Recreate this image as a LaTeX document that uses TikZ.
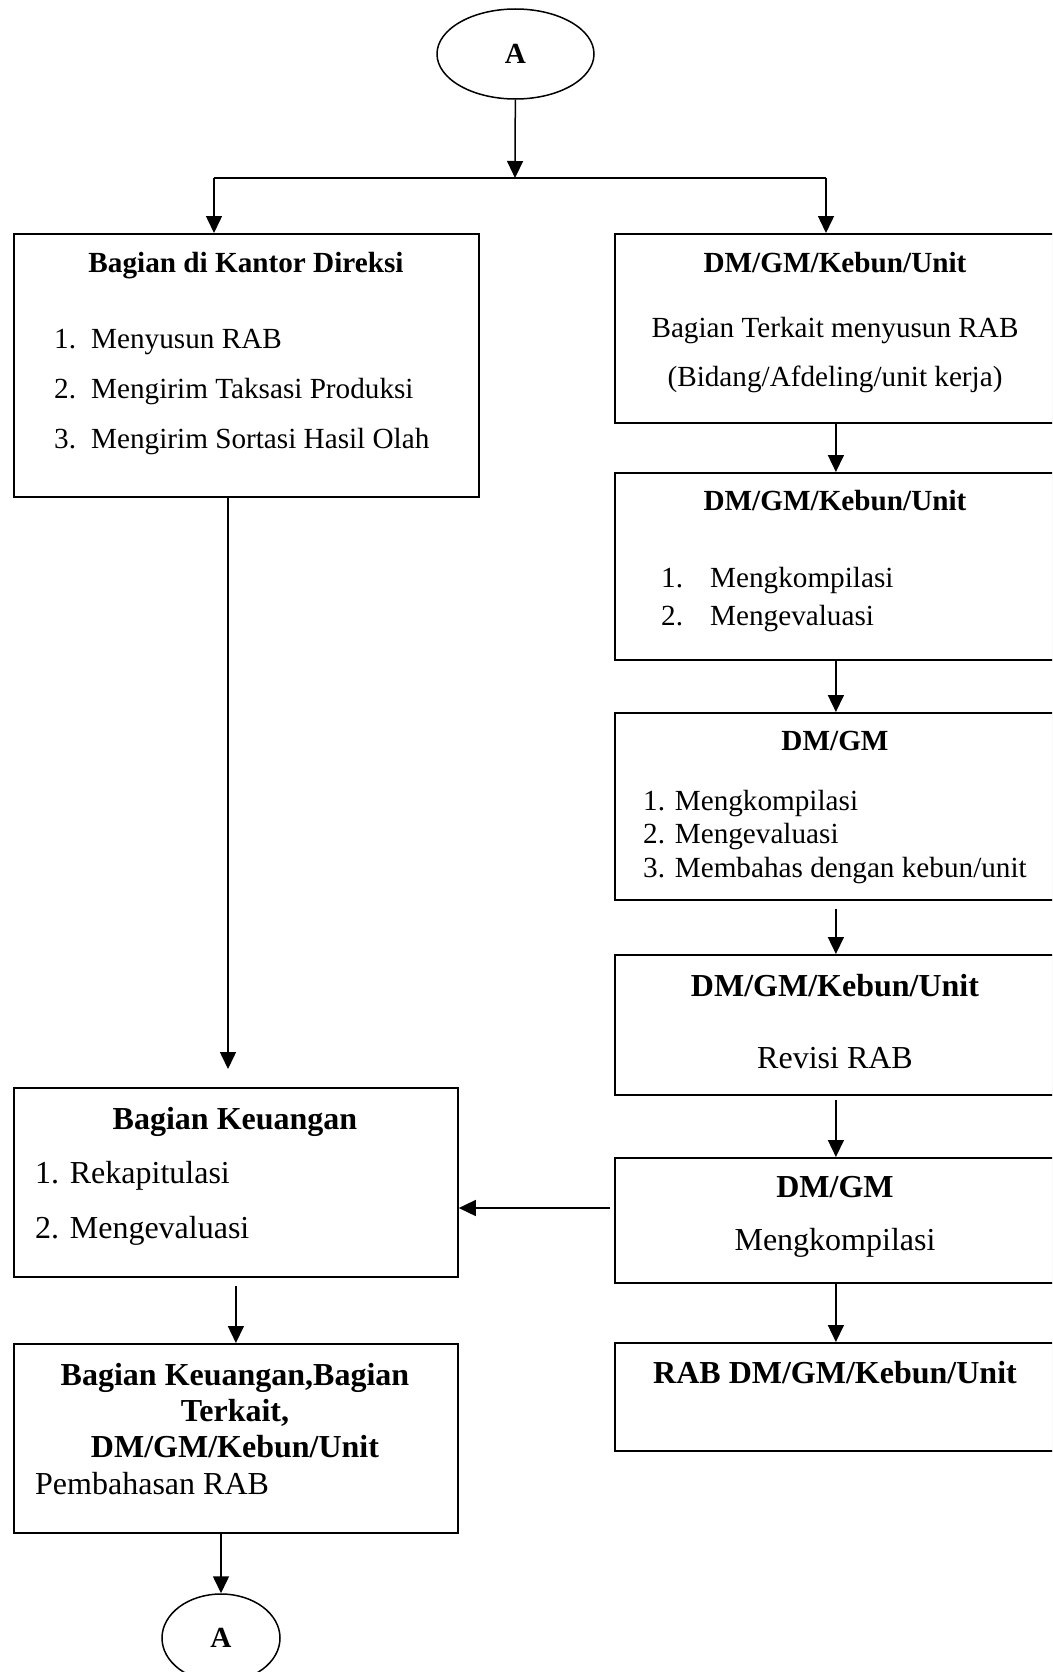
\documentclass[tikz,border=0pt]{standalone}
\usepackage{fontspec}
\setmainfont{Liberation Serif}
\usetikzlibrary{arrows.meta, shapes.geometric, shadows}

\newcommand\smallsz{\fontsize{29.2bp}{35bp}\selectfont}
\newcommand\bigsz{\fontsize{32bp}{38bp}\selectfont}

\begin{document}
\begin{tikzpicture}[x=1bp, y=-1bp,
    box/.style={draw, fill=white, line width=1.8bp, anchor=north west, inner sep=0pt,
      drop shadow={shadow xshift=0bp, shadow yshift=-1.5bp, opacity=0.35}},
    term/.style={draw, ellipse, line width=1.5bp, inner sep=0pt, font=\smallsz\bfseries},
    arr/.style={line width=1.5bp, -{Triangle[length=17bp, width=16bp]}},
    headtxt/.style={inner sep=0pt, anchor=base, font=\smallsz\bfseries},
    bodytxt/.style={inner sep=0pt, anchor=base, font=\smallsz},
    itemtxt/.style={inner sep=0pt, anchor=base west, font=\smallsz},
    bighead/.style={inner sep=0pt, anchor=base, font=\bigsz\bfseries},
    bigbody/.style={inner sep=0pt, anchor=base, font=\bigsz},
    bigitem/.style={inner sep=0pt, anchor=base west, font=\bigsz}]
  \useasboundingbox (0,0) rectangle (1052,1672);
  \clip (0,0) rectangle (1052,1672);

  % connectors A
  \node[term, minimum width=157bp, minimum height=90bp] (topA) at (515.5,54) {A};
  \node[term, minimum width=118bp, minimum height=88bp] (endA) at (221,1638) {A};

  % boxes
  \node[box, minimum width=465bp, minimum height=263bp] (kantor) at (13,233) {};
  \node[box, minimum width=442bp, minimum height=189bp] (kebunA) at (614,233) {};
  \node[box, minimum width=442bp, minimum height=187bp] (kebunB) at (614,472) {};
  \node[box, minimum width=442bp, minimum height=187bp] (dmgmA) at (614,712) {};
  \node[box, minimum width=442bp, minimum height=140bp] (revisi) at (614,954) {};
  \node[box, minimum width=442bp, minimum height=125bp] (dmgmB) at (614,1157) {};
  \node[box, minimum width=442bp, minimum height=108bp] (rab) at (614,1342) {};
  \node[box, minimum width=444bp, minimum height=189bp] (keu) at (13,1087) {};
  \node[box, minimum width=444bp, minimum height=189bp] (bahas) at (13,1343) {};

  % left column
  \node[headtxt] (kantorT) at (246,272) {Bagian di Kantor Direksi};
  \node[itemtxt] (kantor1) at (54,348) {\makebox[37bp][l]{1.}Menyusun RAB};
  \node[itemtxt] (kantor2) at (54,398) {\makebox[37bp][l]{2.}Mengirim Taksasi Produksi};
  \node[itemtxt] (kantor3) at (54,448) {\makebox[37bp][l]{3.}Mengirim Sortasi Hasil Olah};

  \node[bighead] (keuT) at (235,1129) {Bagian Keuangan};
  \node[bigitem] (keu1) at (35,1183) {1. Rekapitulasi};
  \node[bigitem] (keu2) at (35,1238) {2. Mengevaluasi};

  \node[bighead] (bahasT1) at (235,1385) {Bagian Keuangan,Bagian};
  \node[bighead] (bahasT2) at (235,1421) {Terkait,};
  \node[bighead] (bahasT3) at (235,1457) {DM/GM/Kebun/Unit};
  \node[bigitem] (bahas1) at (35,1494) {Pembahasan RAB};

  % right column
  \node[headtxt] (kebunAT) at (835,272) {DM/GM/Kebun/Unit};
  \node[bodytxt] (kebunA1) at (835,337) {Bagian Terkait menyusun RAB};
  \node[bodytxt] (kebunA2) at (835,386) {(Bidang/Afdeling/unit kerja)};

  \node[headtxt] (kebunBT) at (835,510) {DM/GM/Kebun/Unit};
  \node[itemtxt] (kebunB1) at (661,587) {\makebox[49bp][l]{1.}Mengkompilasi};
  \node[itemtxt] (kebunB2) at (661,625) {\makebox[49bp][l]{2.}Mengevaluasi};

  \node[headtxt] (dmgmAT) at (835,750) {DM/GM};
  \node[itemtxt] (dmgmA1) at (643,810) {1. Mengkompilasi};
  \node[itemtxt] (dmgmA2) at (643,843) {2. Mengevaluasi};
  \node[itemtxt] (dmgmA3) at (643,877) {3. Membahas dengan kebun/unit};

  \node[bighead] (revisiT) at (835,996) {DM/GM/Kebun/Unit};
  \node[bigbody] (revisi1) at (835,1068) {Revisi RAB};
  \node[bighead] (dmgmBT) at (835,1197) {DM/GM};
  \node[bigbody] (dmgmB1) at (835,1250) {Mengkompilasi};
  \node[bighead] (rabT) at (835,1383) {RAB DM/GM/Kebun/Unit};

  % arrows
  \coordinate (split) at (515,178);
  \coordinate (splitL) at (214,178);
  \coordinate (splitR) at (826,178);
  \coordinate (kantorOut) at (228,1069);
  \coordinate (toKeu) at (610,1208);

  \draw[arr] (topA) -- (split);
  \draw[line width=1.5bp] (splitL) -- (splitR);
  \draw[arr] (splitL) -- (splitL |- kantor.north);
  \draw[arr] (splitR) -- (splitR |- kebunA.north);

  \draw[arr] (kebunA) -- (kebunB);
  \draw[arr] (kebunB) -- (dmgmA);
  \draw[arr, shorten <=8bp] (dmgmA) -- (revisi);
  \draw[arr, shorten <=4bp] (revisi) -- (dmgmB);
  \draw[arr] (dmgmB) -- (rab);

  \draw[arr] (kantor.south -| kantorOut) -- (kantorOut);
  \draw[arr] (toKeu) -- (keu.east |- toKeu);
  \draw[arr, shorten <=8bp] (keu) -- (bahas);
  \draw[arr] (bahas.south -| endA) -- (endA);
\end{tikzpicture}
\end{document}
